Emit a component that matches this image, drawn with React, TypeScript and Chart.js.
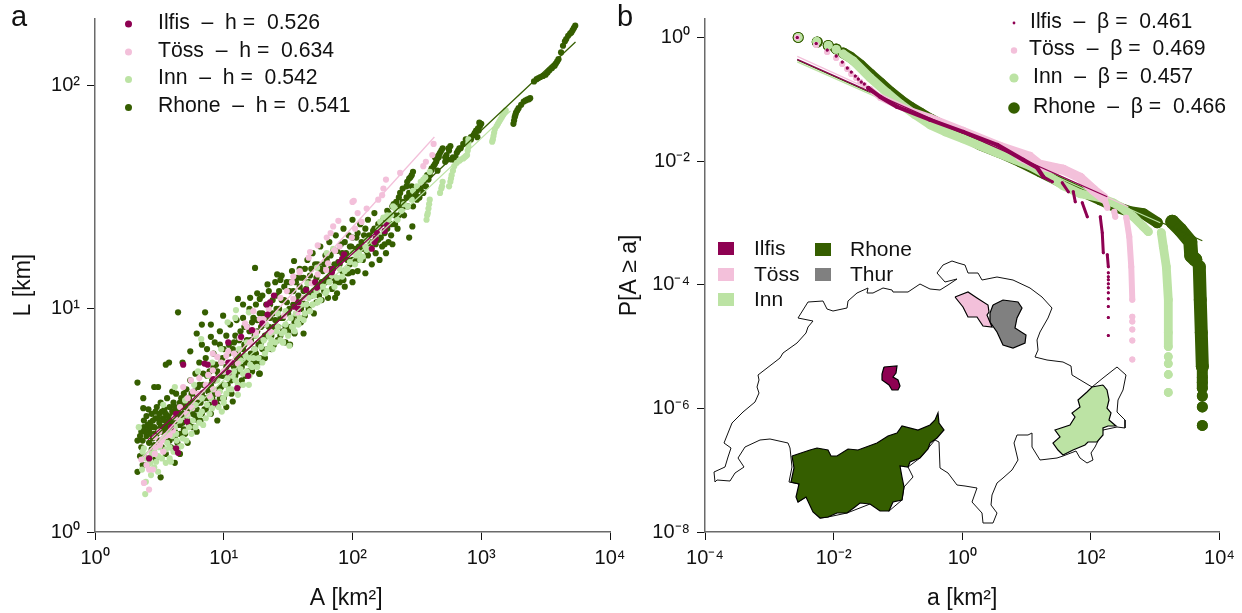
import React, { useEffect, useRef } from "react";
import { Chart, registerables } from "chart.js";

Chart.register(...registerables);

const FONT = '"Liberation Sans", Arial, sans-serif';
const ILFIS = "#8e0152";
const TOSS = "#f3c0da";
const INN = "#bce3a4";
const RHONE = "#355e00";
const THUR = "#808080";

type Pair = [number, number];

// Panel a: [log10 A, log10 L]
const rhoneAL: Pair[] = [
  [.33,.67],[.375,.60],[.375,.555],[.415,.55],[.33,.41],[.33,.27],[.51,.245],[.62,.31],[.49,.65],[.46,.65],[.60,.63],[.575,.76],[.55,.75],[.68,.76],[.74,.81],[.79,.89],[.83,.84],[.90,.875],[.645,.985],[.855,.985],[1.243,1.184],[1.546,1.215],[.995,.97],[.83,.93],[.90,.93],[1.11,1.045],[1.205,1.05],[1.15,1.02],[1.28,1.045],[1.26,1.07],[1.415,1.155],[1.34,1.11],[1.44,1.13],[1.865,1.05],[2.0,1.12],[2.0,1.165],[1.62,.89],[1.28,.71],[.72,.40],[.79,.45],[.95,.50],[1.02,.56],[1.07,.585],[1.275,.71],[1.515,.84],
  [.36,.45],[.38,.47],[.38,.50],[.40,.43],[.40,.52],[.42,.46],[.43,.49],[.44,.53],[.45,.42],[.46,.47],[.47,.51],[.48,.44],[.48,.56],[.50,.49],[.50,.53],[.51,.58],[.52,.45],[.53,.51],[.54,.55],[.55,.47],[.56,.60],[.57,.52],[.57,.43],[.58,.56],[.59,.49],[.60,.54],[.61,.58],[.62,.45],[.63,.62],[.63,.51],[.65,.56],[.66,.48],[.67,.60],[.68,.53],[.36,.38],[.38,.34],[.40,.30],[.44,.37],[.47,.33],[.52,.38],[.55,.35],[.59,.38],[.64,.40],[.70,.44],[.66,.35],
  [.70,.57],[.71,.64],[.72,.50],[.73,.60],[.74,.68],[.75,.55],[.76,.47],[.77,.63],[.78,.71],[.78,.52],[.80,.58],[.81,.66],[.81,.76],[.82,.50],[.83,.62],[.84,.71],[.85,.55],[.86,.78],[.87,.65],[.88,.60],[.89,.72],[.90,.53],[.91,.68],[.92,.80],[.93,.62],[.94,.75],[.95,.57],[.96,.70],[.97,.84],[.98,.65],[.99,.78],[1.0,.60],[.93,.85],[.87,.82],[.97,.90],
  [1.01,.72],[1.02,.88],[1.03,.66],[1.04,.80],[1.05,.93],[1.06,.62],[1.07,.75],[1.08,.85],[1.09,.70],[1.10,.95],[1.11,.80],[1.12,.66],[1.13,.90],[1.14,.74],[1.15,.96],[1.16,.84],[1.17,.70],[1.18,.92],[1.19,.78],[1.20,1.0],[1.21,.86],[1.22,.72],[1.23,.96],[1.24,.82],[1.25,1.02],[1.26,.90],[1.27,.76],[1.28,.98],[1.29,.85],[1.30,1.06],
  [1.31,.93],[1.32,.78],[1.33,1.02],[1.34,.88],[1.35,1.08],[1.36,.96],[1.37,.82],[1.38,1.04],[1.39,.92],[1.40,1.12],[1.41,1.0],[1.42,.86],[1.43,1.08],[1.44,.96],[1.45,1.15],[1.46,.90],[1.47,1.04],[1.48,.85],[1.49,1.12],[1.50,.98],[1.51,1.08],[1.52,.92],[1.53,1.17],[1.54,1.02],[1.55,.89],[1.56,1.12],[1.57,.97],[1.58,1.06],[1.59,1.18],[1.60,.94],
  [1.61,1.03],[1.62,1.14],[1.63,.97],[1.64,1.09],[1.65,1.22],[1.66,1.0],[1.67,1.15],[1.68,1.06],[1.69,1.25],[1.70,.98],[1.71,1.12],[1.72,1.03],[1.73,1.2],[1.74,1.1],[1.75,1.28],[1.76,1.04],[1.77,1.17],[1.78,1.08],[1.79,1.24],[1.80,1.13],[1.81,1.05],[1.82,1.3],[1.83,1.18],[1.84,1.09],[1.85,1.26],[1.86,1.14],[1.87,1.33],[1.88,1.07],[1.89,1.21],[1.90,1.12],[1.91,1.29],[1.92,1.17],[1.93,1.36],[1.94,1.1],[1.95,1.25],[1.96,1.16],[1.97,1.33],[1.98,1.2],[1.99,1.28],[2.0,1.4],
  [2.02,1.22],[2.03,1.32],[2.04,1.17],[2.05,1.28],[2.06,1.38],[2.08,1.22],[2.09,1.33],[2.10,1.16],[2.11,1.26],[2.12,1.4],[2.14,1.29],[2.15,1.2],[2.16,1.35],[2.17,1.43],[2.18,1.25],[2.2,1.31],[2.21,1.22],[2.22,1.38],[2.23,1.28],[2.25,1.34],[2.26,1.25],[2.27,1.44],[2.28,1.3],[2.3,1.38],[2.31,1.29],[2.32,1.47],[2.33,1.42],[2.35,1.36],[2.36,1.5],[2.37,1.52],[2.38,1.43],[2.39,1.54],[2.41,1.46],[2.42,1.55],[2.44,1.32],[2.45,1.59],[2.465,1.37],[2.47,1.615],[2.45,1.5],
  [2.50,1.49],[2.52,1.5],[2.55,1.52],[2.57,1.55],[2.60,1.6],[2.63,1.64],[2.65,1.66],[2.68,1.70],[2.66,1.62],[2.73,1.69],[2.76,1.73],[2.74,1.67],[2.80,1.68],[2.82,1.71],[2.9,1.75],[2.94,1.78],[2.96,1.8],[2.99,1.82],[2.97,1.77],
  [3.25,1.83],[3.26,1.86],[3.27,1.88],[3.29,1.9],[3.33,1.93],[3.36,1.94],[3.38,1.945],[3.43,2.03],[3.46,2.04],[3.50,2.05],[3.53,2.07],[3.55,2.08],[3.58,2.1],[3.60,2.12],[3.65,2.20],[3.66,2.21],[3.675,2.225],[3.70,2.24],[3.71,2.25],[3.73,2.27],
];
const rhoneDenseAL: Pair[] = [
  [.35,.43],[.37,.41],[.39,.45],[.41,.48],[.43,.44],[.44,.47],[.45,.50],[.46,.44],[.47,.54],[.49,.46],[.49,.51],[.51,.47],[.52,.54],[.53,.47],[.54,.50],[.55,.53],[.56,.49],[.56,.45],[.58,.50],[.58,.46],[.60,.50],[.61,.47],[.61,.53],[.62,.56],[.64,.48],[.64,.54],[.66,.52],[.66,.58],[.68,.49],[.69,.56],[.69,.62],[.42,.40],[.46,.39],[.50,.41],[.54,.42],[.58,.41],[.62,.42],[.66,.44],[.69,.46],[.35,.34],[.42,.33],[.37,.30],
  [.71,.52],[.72,.55],[.73,.48],[.74,.58],[.75,.62],[.76,.53],[.77,.58],[.78,.62],[.79,.55],[.80,.50],[.80,.65],[.82,.58],[.83,.53],[.84,.66],[.85,.60],[.86,.55],[.87,.70],[.88,.63],[.89,.57],[.90,.66],[.91,.60],[.92,.74],[.93,.68],[.94,.58],[.95,.72],[.96,.64],[.97,.60],[.98,.76],[.99,.70],[1.0,.82],[1.0,.66],
  [1.02,.74],[1.03,.70],[1.04,.84],[1.05,.76],[1.06,.68],[1.07,.82],[1.08,.74],[1.09,.88],[1.1,.78],[1.11,.72],[1.12,.86],[1.13,.78],[1.14,.68],[1.15,.82],[1.16,.92],[1.17,.76],[1.18,.86],[1.19,.72],[1.2,.90],[1.21,.80],[1.22,.94],[1.23,.76],[1.24,.88],[1.25,.80],[1.26,.95],[1.27,.84],[1.28,.78],[1.29,.92],[1.3,.82],[1.3,.98],
  [1.32,.88],[1.33,.96],[1.34,.82],[1.35,.92],[1.36,1.02],[1.37,.88],[1.38,.98],[1.39,.84],[1.4,.95],[1.41,1.06],[1.42,.92],[1.43,1.0],[1.44,.88],[1.45,1.04],[1.46,.96],[1.47,1.1],[1.48,.92],[1.49,1.03],[1.5,.9],[1.51,1.0],[1.52,1.12],[1.53,.96],[1.54,1.08],[1.55,.94],[1.56,1.04],[1.57,1.14],[1.58,1.0],[1.59,1.1],[1.6,1.0],[1.6,1.14],
  [1.62,1.08],[1.63,1.18],[1.64,1.02],[1.66,1.12],[1.67,1.06],[1.68,1.18],[1.7,1.08],[1.71,1.2],[1.72,1.14],[1.74,1.06],[1.75,1.18],[1.76,1.12],[1.78,1.2],[1.79,1.12],[1.8,1.22],[1.82,1.14],[1.83,1.24],[1.84,1.14],[1.86,1.2],[1.87,1.12],[1.88,1.26],[1.9,1.2],[1.92,1.25],[1.93,1.13],[1.94,1.3],[1.96,1.22],[1.97,1.16],[1.98,1.28],[2.0,1.22],[2.0,1.32],
  [2.02,1.27],[2.04,1.34],[2.05,1.22],[2.07,1.3],[2.08,1.27],[2.1,1.36],[2.12,1.24],[2.13,1.33],[2.15,1.3],[2.17,1.36],[2.18,1.29],[2.2,1.38],[2.22,1.32],[2.24,1.4],[2.25,1.29],[2.27,1.36],[2.28,1.43],[2.3,1.33],[2.31,1.46],[2.33,1.38],[2.34,1.48],[2.36,1.42],[2.37,1.46],[2.39,1.48],[2.4,1.42],[2.42,1.5],[2.43,1.46],[2.44,1.52],[2.46,1.55],[2.47,1.46],[2.49,1.5],[2.5,1.53],
  [2.53,1.54],[2.56,1.58],[2.58,1.6],[2.61,1.62],[2.64,1.68],[2.67,1.68],[2.7,1.72],[2.72,1.66],[2.75,1.71],[2.78,1.68],[2.81,1.7],[2.84,1.72],[2.86,1.74],[2.88,1.76],[2.92,1.76],[2.98,1.8],[3.0,1.83],
  [3.255,1.845],[3.265,1.87],[3.28,1.89],[3.31,1.915],[3.345,1.935],[3.37,1.94],[3.41,2.02],[3.445,2.035],[3.48,2.045],[3.515,2.06],[3.57,2.09],[3.59,2.11],[3.62,2.15],[3.635,2.18],[3.69,2.235],[3.72,2.26],
];
const rhoneChainAL: Pair[] = [
  [2.425,1.57],[2.44,1.585],[2.46,1.60],[2.49,1.51],[2.515,1.50],[2.59,1.58],[2.615,1.63],[2.64,1.65],[2.655,1.67],[2.67,1.69],[2.69,1.71],[2.72,1.68],[2.745,1.72],[2.77,1.67],[2.79,1.67],[2.83,1.72],[2.92,1.77],[2.95,1.79],[2.975,1.81],[2.985,1.835],
];
const innAL: Pair[] = [
  [.39,.17],[.395,.225],[.435,.255],[.49,.27],[.365,.28],[.34,.47],[.38,.375],[.37,.36],[.41,.30],[.475,.315],[.58,.33],[.59,.315],[.56,.40],[.635,.41],[.67,.385],[.70,.45],[.76,.50],[.84,.48],[.815,.525],[.91,.555],[.985,.54],[.995,.60],[1.11,.615],[1.195,.66],[1.01,.66],[1.205,.75],[1.36,.84],[1.51,.835],[.62,.65],[.70,.59],[.53,.57],[.77,.66],[.91,.76],[1.07,.70],
  [.44,.35],[.50,.38],[.53,.42],[.60,.43],[.62,.47],[.66,.50],[.72,.52],[.78,.57],[.83,.60],[.87,.57],[.92,.64],[.95,.68],[1.0,.72],[1.04,.64],[1.06,.76],[1.09,.68],[1.13,.73],[1.15,.66],[1.17,.79],[1.2,.70],[1.23,.78],[1.26,.74],[1.29,.83],[1.32,.80],[1.35,.88],[1.38,.82],[1.41,.90],[1.44,.86],[1.46,.85],[1.48,.93],[1.53,.92],[1.56,.98],[1.58,.93],[1.6,1.02],[1.63,.98],[1.66,1.05],[1.69,1.02],[1.72,1.08],[1.75,1.04],[1.79,1.07],[1.82,1.12],[1.86,1.1],[1.92,1.145],[1.96,1.18],[2.0,1.255],[2.02,1.2],[2.08,1.235],[2.11,1.31],[2.14,1.27],[2.215,1.39],[2.28,1.40],[1.80,1.25],[1.85,1.27],[1.725,1.185],[1.65,1.115],[1.095,.995],[1.195,.985],[1.09,.96],[1.03,.94],[.825,.865],[1.46,.85],[1.54,.92],[1.69,1.02],[1.59,.96],[1.48,.99],[1.42,.98],[1.33,.93],[1.25,.88],[1.18,.85],[1.12,.82],[.98,.82],[.88,.70],[.80,.72],
  [2.11,1.265],[2.24,1.41],[2.315,1.46],[2.46,1.49],[2.47,1.53],[2.565,1.59],[2.60,1.615],[2.58,1.42],[2.59,1.45],[2.60,1.49],[2.69,1.54],[2.70,1.57],[2.76,1.57],[2.77,1.6],[2.79,1.64],[2.84,1.67],[2.87,1.68],[2.89,1.69],[2.90,1.73],[2.90,1.76],[3.09,1.76],[3.10,1.79],[3.12,1.82],[3.15,1.85],[3.17,1.87],[3.19,1.89],[2.35,1.4],[2.4,1.47],[2.18,1.33],[2.05,1.25],
];
const innDenseAL: Pair[] = [
  [.40,.33],[.43,.31],[.46,.29],[.46,.36],[.49,.34],[.52,.33],[.55,.37],[.55,.31],[.58,.38],[.61,.36],[.63,.44],[.65,.38],[.68,.42],[.71,.41],[.73,.47],[.75,.44],[.78,.47],[.81,.49],[.83,.54],[.86,.51],[.89,.53],[.90,.60],[.93,.58],[.96,.56],[.97,.63],[1.0,.58],[1.02,.62],[1.03,.69],[1.06,.64],[1.08,.72],[1.11,.66],[1.13,.77],[1.15,.71],[1.18,.72],[1.2,.78],[1.22,.74],[1.24,.82],[1.27,.78],[1.3,.76],[1.31,.86],[1.34,.82],[1.37,.86],[1.4,.85],[1.42,.92],[1.45,.89],[1.47,.90],[1.5,.88],[1.52,.96],[1.55,.9],[1.57,.94],[1.62,.95],[1.64,1.02],[1.67,.99],[1.7,1.06],[1.73,1.03],[1.77,1.1],[1.8,1.08],[1.84,1.15],[1.88,1.14],[1.9,1.18],[1.94,1.17],[1.98,1.21],[2.03,1.24],[2.06,1.22],[2.1,1.28],[2.16,1.3],[2.2,1.36],[2.26,1.38],[2.3,1.42],
];
const innChainAL: Pair[] = [
  [2.575,1.40],[2.585,1.43],[2.595,1.47],[2.68,1.52],[2.695,1.55],[2.75,1.55],[2.765,1.585],[2.78,1.62],[2.81,1.655],[2.83,1.665],[2.86,1.675],[2.88,1.685],[2.895,1.71],[2.90,1.745],[3.085,1.75],[3.095,1.775],[3.105,1.805],[3.13,1.83],[3.14,1.84],[3.16,1.86],[3.18,1.88],[2.50,1.55],[2.53,1.57],[2.55,1.58],[2.43,1.46],[2.38,1.44],[2.33,1.45],[2.27,1.42],
];
const tossAL: Pair[] = [
  [2.63,1.74],[2.62,1.69],[2.55,1.64],[2.57,1.66],[2.37,1.61],[2.26,1.58],[2.24,1.54],[2.20,1.49],[2.23,1.51],[2.0,1.48],[2.01,1.485],[2.11,1.45],[2.04,1.43],[2.02,1.36],[1.89,1.395],[1.85,1.37],[1.83,1.34],[1.80,1.32],[1.73,1.285],[1.67,1.255],[1.66,1.23],[1.81,1.205],[1.59,1.165],[1.54,1.145],
  [1.865,1.26],[1.90,1.28],[1.995,1.32],[2.07,1.39],[1.59,1.17],[1.53,1.12],[1.795,1.175],[1.73,1.155],[1.685,1.115],[1.49,1.08],[1.54,1.045],[1.62,1.05],[1.575,.985],[1.47,.97],[1.31,.955],[1.28,.955],[1.23,.99],[1.165,.935],[1.37,.895],[1.25,.895],[1.125,.87],[1.205,.85],[1.035,.81],[.915,.80],[1.02,.79],[.98,.76],[1.11,.755],[.915,.725],[.88,.705],[.81,.69],
  [.95,.785],[.745,.68],[.685,.65],[.76,.63],[.89,.61],[.92,.64],[.955,.62],[.755,.555],[.715,.53],[.62,.515],[.605,.455],[.58,.435],[.465,.425],[.52,.41],[.505,.39],[.53,.36],[.465,.35],[.36,.325],[.45,.28],[.42,.28],[.38,.22],[.42,.19],
  [.40,.30],[.47,.38],[.55,.43],[.66,.56],[.80,.62],[.86,.66],[1.0,.72],[1.08,.80],[1.18,.92],[1.35,1.0],[1.44,1.05],[.50,.45],[.72,.60],
];
const ilfisAL: Pair[] = [
  [2.27,1.375],[2.25,1.35],[2.19,1.34],[2.18,1.315],[2.17,1.30],[2.15,1.27],[1.935,1.245],[1.90,1.21],[1.92,1.225],[1.85,1.18],[1.84,1.165],[1.71,1.12],[1.64,1.085],[1.725,1.095],[1.58,1.03],[1.39,1.06],[1.335,1.02],[1.36,1.03],[1.55,1.01],[1.58,1.0],[1.34,.975],[1.30,.935],[1.22,.905],[1.135,.875],[1.035,.85],[1.035,.76],[1.06,.76],[.85,.755],[.875,.75],[1.04,.715],[1.19,.70],[.685,.75],[.92,.685],[1.105,.645],[.93,.58],[.63,.53],[.715,.495],[.59,.47],[.63,.375],[.645,.355],[.42,.33],
];

// Panel a: fitted power laws, end points as [log10 A, log10 L]
const ilfisFitAL: Pair[] = [[.412,.413],[2.27,1.39]];
const tossFitAL: Pair[] = [[.373,.332],[2.636,1.771]];
const innFitAL: Pair[] = [[.365,.336],[3.227,1.888]];
const rhoneFitAL: Pair[] = [[.412,.399],[3.732,2.197]];

// Panel b: [log10 a, log10 P]; null marks a break in the run of points
type Cell = Pair | null;
const rhoneCurve: Cell[] = [
  [-2.551,0],null,[-2.255,-.073],null,[-2.084,-.129],null,[-1.96,-.186],null,
  [-1.851,-.25],[-1.742,-.315],[-1.586,-.444],[-1.431,-.59],[-1.275,-.735],[-1.12,-.88],[-.964,-1.01],[-.809,-1.123],[-.653,-1.22],[-.498,-1.317],[-.264,-1.446],[.016,-1.591],[.28,-1.737],[.591,-1.866],[.902,-2.011],[1.213,-2.173],[1.524,-2.334],[1.835,-2.48],[2.146,-2.625],[2.379,-2.738],[2.613,-2.819],[2.815,-2.851],[3.033,-2.997],null,
  [3.266,-2.981],[3.39,-3.11],[3.546,-3.304],[3.561,-3.53],[3.624,-3.594],[3.686,-3.708],[3.701,-4.241],[3.717,-4.774],[3.733,-5.323],[3.733,-5.499],[3.733,-5.578],[3.733,-5.675],null,
  [3.733,-5.8],null,[3.733,-5.976],null,[3.733,-6.276],
];
const rhoneShoulder: Cell[] = [[3.266,-2.981],[3.39,-3.11],[3.546,-3.304],[3.561,-3.53],[3.624,-3.594]];
const rhoneTail: Cell[] = [[3.686,-3.708],[3.701,-4.241],[3.717,-4.774],[3.733,-5.323]];
const innCurve: Cell[] = [
  [-2.551,0],null,[-2.263,-.065],null,[-2.084,-.129],null,[-1.96,-.194],null,
  [-1.851,-.267],[-1.695,-.38],[-1.431,-.654],[-1.166,-.897],[-.964,-1.074],[-.731,-1.252],[-.498,-1.414],[-.264,-1.527],[.016,-1.64],[.28,-1.753],[.544,-1.866],[.824,-1.979],[1.058,-2.076],[1.337,-2.237],[1.571,-2.399],[1.835,-2.528],[2.146,-2.593],[2.348,-2.674],[2.457,-2.738],[2.659,-2.9],[2.815,-3.061],[2.893,-3.142],null,
  [3.095,-3.158],[3.126,-3.384],[3.173,-3.708],[3.204,-4.241],[3.204,-4.774],[3.204,-5.0],null,
  [3.204,-5.162],null,[3.204,-5.275],null,[3.204,-5.452],null,[3.204,-5.743],
];
const tossCurve: Cell[] = [
  [-2.566,0],null,[-2.271,-.121],null,[-2.1,-.234],null,[-1.96,-.331],null,[-1.866,-.428],null,[-1.788,-.509],null,[-1.726,-.59],null,[-1.649,-.654],null,[-1.586,-.719],null,[-1.524,-.767],null,
  [-1.431,-.832],[-1.275,-.977],[-1.011,-1.107],[-.498,-1.284],[.016,-1.494],[.591,-1.737],[1.058,-1.898],[1.213,-2.027],[1.571,-2.108],[1.835,-2.254],[2.037,-2.464],[2.193,-2.593],[2.224,-2.658],[2.255,-2.754],null,
  [2.364,-2.819],[2.379,-2.9],null,
  [2.551,-2.916],[2.597,-3.223],[2.628,-3.708],[2.644,-4.241],null,
  [2.644,-4.516],null,[2.644,-4.596],null,[2.644,-4.725],null,[2.644,-4.903],null,[2.644,-5.21],
];
const tossSwell: Cell[] = [[.902,-1.93],[1.213,-2.076],[1.571,-2.141],[1.835,-2.27],[2.037,-2.464],[2.193,-2.593]];
const ilfisHeadTail: Cell[] = [
  [-2.566,0],null,[-2.271,-.097],null,[-2.1,-.202],null,[-1.96,-.299],null,[-1.866,-.396],null,[-1.788,-.493],null,[-1.726,-.557],null,[-1.664,-.622],null,[-1.617,-.67],null,[-1.571,-.719],null,[-1.524,-.751],null,
  [1.26,-2.254],[1.4,-2.334],null,[1.555,-2.351],[1.649,-2.496],null,[1.726,-2.496],[1.757,-2.658],null,[1.866,-2.674],[1.944,-2.9],null,[2.146,-2.9],[2.177,-3.158],[2.193,-3.481],null,[2.255,-3.514],[2.271,-3.708],null,
  [2.271,-3.805],null,[2.271,-3.869],null,[2.271,-3.918],null,[2.271,-3.982],null,[2.271,-4.047],null,[2.271,-4.128],null,[2.271,-4.225],null,[2.271,-4.354],null,[2.271,-4.531],null,[2.271,-4.822],
];
const ilfisBody: Cell[] = [
  [-1.462,-.816],[-1.275,-.961],[-1.011,-1.123],[-.498,-1.333],[.016,-1.527],[.544,-1.737],[.949,-1.979],[1.166,-2.108],[1.26,-2.254],
];

// Panel b: fitted power laws, end points as [log10 a, log10 P]
const ilfisFitB: Pair[] = [[-2.566,-.355],[2.255,-2.577]];
const tossFitB: Pair[] = [[-2.566,-.307],[2.582,-2.738]];
const innFitB: Pair[] = [[-2.566,-.396],[3.079,-2.997]];
const rhoneFitB: Pair[] = [[-2.566,-.364],[3.733,-3.288]];

// Panel b inset: catchment and border outlines in map units
const borderMap: Pair[] = [
  [10,50],[9,60],[20,65],[23,75],[26,84],[19,89],[27,109],[38,120],[50,130],[54,139],[52,145],[54,152],[53,157],[75,174],[78,179],[92,189],[101,199],[103,205],[108,211],[93,214],[98,222],[103,230],[118,231],[122,223],[128,221],[142,224],[143,231],[152,239],[163,244],[162,239],[168,239],[178,244],[187,242],[188,240],[203,240],[215,248],[225,243],[235,242],[243,247],[252,253],[240,250],[232,259],[238,267],[247,271],[253,269],[260,267],[263,259],[273,259],[277,252],[292,255],[308,252],[325,244],[337,235],[347,224],[343,214],[335,200],[332,192],[333,182],[330,175],[342,172],[358,170],[366,166],[367,157],[387,145],[398,154],[412,165],[421,157],[418,142],[413,132],[412,120],[420,112],[420,104],[412,105],[398,102],[392,89],[390,85],[386,79],[388,72],[382,69],[375,74],[371,81],[358,76],[352,74],[335,72],[327,85],[327,99],[323,97],[312,97],[309,89],[313,72],[307,62],[298,54],[292,49],[287,37],[286,27],[292,19],[288,9],[278,9],[277,19],[267,30],[272,44],[260,46],[252,47],[243,59],[235,64],[234,90],[230,92],[215,74],[203,65],[208,55],[199,45],[197,32],[184,21],[165,28],[142,19],[123,15],[115,14],[101,35],[93,30],[94,48],[84,50],[87,65],[85,84],[83,89],[65,93],[55,92],[40,85],[33,74],[39,65],[30,59],[25,51],[12,52],[10,50],
];
const rhoneMap: Pair[] = [
  [87,76],[105,82],[112,84],[123,82],[126,76],[132,76],[143,83],[153,82],[172,89],[183,96],[192,99],[197,106],[213,102],[225,107],[230,112],[233,119],[234,109],[239,102],[232,94],[225,89],[223,83],[215,74],[205,70],[203,65],[195,66],[197,55],[199,45],[197,32],[188,30],[184,21],[175,21],[165,28],[155,29],[150,25],[142,19],[132,19],[123,15],[115,14],[108,20],[101,35],[93,30],[91,35],[94,48],[86,50],[89,64],[87,76],
];
const ilfisMap: Pair[] = [[179,165],[192,166],[191,159],[188,155],[193,152],[195,146],[193,142],[187,142],[184,147],[177,152],[177,158],[179,165]];
const tossMap: Pair[] = [[250,235],[263,240],[272,234],[283,227],[284,220],[282,217],[287,205],[278,206],[272,215],[263,215],[258,225],[250,235]];
const thurMap: Pair[] = [[288,227],[298,232],[313,230],[317,224],[312,214],[310,204],[321,197],[320,189],[308,184],[298,187],[292,200],[285,210],[285,219],[288,227]];
const innMap: Pair[] = [[398,147],[402,142],[404,132],[402,124],[406,119],[404,112],[411,106],[403,106],[398,104],[398,97],[392,90],[383,90],[380,87],[368,82],[358,77],[353,82],[348,89],[355,95],[350,102],[365,107],[370,115],[367,119],[375,125],[373,132],[382,140],[387,145],[398,147]];

// Tick exponents and labels
const exponentsAX = [0, 1, 2, 3, 4];
const exponentsAY = [0, 1, 2];
const exponentsBX = [-4, -2, 0, 2, 4];
const exponentsBY = [-8, -6, -4, -2, 0];
const legendA = ["Ilfis  –  h =  0.526", "Töss  –  h =  0.634", "Inn  –  h =  0.542", "Rhone  –  h =  0.541"];
const legendB = ["Ilfis  –  β =  0.461", "Töss  –  β =  0.469", "Inn  –  β =  0.457", "Rhone  –  β =  0.466"];
const mapLegendLeft = ["Ilfis", "Töss", "Inn"];
const mapLegendRight = ["Rhone", "Thur"];

const SUP: Record<string, string> = { "0": "⁰", "1": "¹", "2": "²", "3": "³", "4": "⁴", "6": "⁶", "8": "⁸", "-": "⁻" };
const tenTo = (e: number) => "10" + String(e).split("").map((c) => SUP[c]).join("");

const logPts = (list: Cell[]) =>
  list.map((p) => (p ? { x: 10 ** p[0], y: 10 ** p[1] } : { x: null, y: null }));
const mapPts = (list: Pair[]) => list.map((p) => ({ x: p[0], y: p[1] }));

const dots = (label: string, list: Pair[], color: string) => ({
  label, data: logPts(list), backgroundColor: color, borderColor: color,
  pointRadius: 3.1, pointBorderWidth: 0, showLine: false, clip: false,
});
const fitLine = (label: string, list: Pair[], color: string) => ({
  label, data: logPts(list), borderColor: color, backgroundColor: color,
  borderWidth: 1.3, pointRadius: 0, showLine: true, clip: false,
});
const curve = (label: string, list: Cell[], color: string, r: number, width = 2 * r) => ({
  label, data: logPts(list), backgroundColor: color, borderColor: color,
  pointRadius: r, pointBorderWidth: 0, showLine: true, borderWidth: width,
  borderCapStyle: "round", borderJoinStyle: "round", clip: false,
});
const region = (label: string, list: Pair[], color: string) => ({
  label, data: mapPts(list), xAxisID: "xMap", yAxisID: "yMap", showLine: true, fill: "shape",
  backgroundColor: color, borderColor: "#000", borderWidth: 1.2, pointRadius: 0, tension: 0,
});

const logAxis = (
  axis: "x" | "y", min: number, max: number, exps: number[], title: string,
  size: number, titlePad: any,
) => ({
  type: "logarithmic", axis, position: axis === "x" ? "bottom" : "left", min, max,
  afterBuildTicks: (s: any) => { s.ticks = exps.map((e) => ({ value: 10 ** e })); },
  afterFit: (s: any) => { if (axis === "x") s.height = size; else s.width = size; },
  border: { display: true, color: "#6a6a6a", width: 1.5 },
  grid: { display: true, drawOnChartArea: false, drawTicks: true, tickLength: 8, tickColor: "#111", tickWidth: 1 },
  ticks: {
    autoSkip: false, maxRotation: 0, minRotation: 0, padding: axis === "x" ? 6 : 7, color: "#111",
    font: { family: FONT, size: 20 },
    callback: (v: any) => tenTo(Math.round(Math.log10(Number(v)))),
  },
  title: { display: true, text: title, color: "#111", font: { family: FONT, size: 23 }, padding: titlePad },
});

const textAt = (ctx: any, text: string, x: number, y: number, size = 21.2) => {
  ctx.font = `${size}px ${FONT}`;
  ctx.fillStyle = "#111";
  ctx.textAlign = "left";
  ctx.textBaseline = "middle";
  ctx.fillText(text, x, y);
};
const disc = (ctx: any, x: number, y: number, r: number, color: string) => {
  ctx.fillStyle = color;
  ctx.beginPath();
  ctx.arc(x, y, r, 0, Math.PI * 2);
  ctx.fill();
};

const keyA = {
  id: "keyA",
  afterDraw(chart: any) {
    const { ctx } = chart;
    ctx.save();
    textAt(ctx, "a", 11, 18, 29);
    const colors = [ILFIS, TOSS, INN, RHONE];
    const rows = [24, 52, 79.5, 107.5];
    legendA.forEach((t, i) => {
      disc(ctx, 128.5, rows[i], 3.5, colors[i]);
      textAt(ctx, t, 158, rows[i] - 1);
    });
    ctx.restore();
  },
};
const keyB = {
  id: "keyB",
  afterDraw(chart: any) {
    const { ctx } = chart;
    ctx.save();
    textAt(ctx, "b", 7, 18, 29);
    const colors = [ILFIS, TOSS, INN, RHONE];
    const rows = [23, 50.5, 78, 108];
    const radii = [1.4, 3.2, 4.6, 5.8];
    const textX = [420, 419, 423, 423];
    legendB.forEach((t, i) => {
      disc(ctx, 404, rows[i], radii[i], colors[i]);
      textAt(ctx, t, textX[i], rows[i] - 1);
    });
    const square = (x: number, y: number, c: string) => { ctx.fillStyle = c; ctx.fillRect(x, y, 16, 13); };
    [ILFIS, TOSS, INN].forEach((c, i) => {
      const y = [242, 268, 293][i];
      square(108, y, c);
      textAt(ctx, mapLegendLeft[i], 144, y + 7, 21);
    });
    [RHONE, THUR].forEach((c, i) => {
      const y = [243, 268][i];
      square(205, y, c);
      textAt(ctx, mapLegendRight[i], 240, y + 7, 21);
    });
    ctx.restore();
  },
};

export default function App() {
  const refA = useRef<HTMLCanvasElement>(null);
  const refB = useRef<HTMLCanvasElement>(null);
  useEffect(() => {
    const base = {
      responsive: false, animation: false, devicePixelRatio: 1,
      plugins: { legend: { display: false }, tooltip: { enabled: false } },
    };
    const a = new Chart(refA.current as any, {
      type: "scatter",
      data: {
        datasets: [
          fitLine("Ilfis fit", ilfisFitAL, ILFIS),
          fitLine("Töss fit", tossFitAL, TOSS),
          fitLine("Inn fit", innFitAL, INN),
          fitLine("Rhone fit", rhoneFitAL, RHONE),
          dots("Ilfis", ilfisAL, ILFIS),
          dots("Töss", tossAL, TOSS),
          dots("Inn", [...innAL, ...innDenseAL, ...innChainAL], INN),
          dots("Rhone", [...rhoneAL, ...rhoneDenseAL, ...rhoneChainAL], RHONE),
        ],
      },
      options: {
        ...base,
        layout: { padding: { top: 19, right: 30, left: 0, bottom: 0 } },
        scales: {
          x: logAxis("x", 1, 1e4, exponentsAX, "A [km²]  ", 81, { top: 4, bottom: 1 }),
          y: logAxis("y", 1, 10 ** 2.3, exponentsAY, "L [km]   ", 95, { top: 10, bottom: 0 }),
        },
      } as any,
      plugins: [keyA],
    } as any);
    const b = new Chart(refB.current as any, {
      type: "scatter",
      data: {
        datasets: [
          fitLine("Ilfis fit", ilfisFitB, ILFIS),
          curve("Ilfis", ilfisHeadTail, ILFIS, 1.5, 3),
          curve("Ilfis band", ilfisBody, ILFIS, 2.1),
          fitLine("Töss fit", tossFitB, TOSS),
          curve("Töss swell", tossSwell, TOSS, 5),
          curve("Töss", tossCurve, TOSS, 3),
          fitLine("Inn fit", innFitB, INN),
          curve("Inn", innCurve, INN, 4.4),
          fitLine("Rhone fit", rhoneFitB, RHONE),
          curve("Rhone shoulder", rhoneShoulder, RHONE, 7),
          curve("Rhone tail", rhoneTail, RHONE, 6.5),
          curve("Rhone", rhoneCurve, RHONE, 5.5),
          region("Ilfis map", ilfisMap, ILFIS),
          region("Töss map", tossMap, TOSS),
          region("Thur map", thurMap, THUR),
          region("Inn map", innMap, INN),
          region("Rhone map", rhoneMap, RHONE),
          {
            label: "Border", data: mapPts(borderMap), xAxisID: "xMap", yAxisID: "yMap",
            showLine: true, borderColor: "#111", borderWidth: 1, pointRadius: 0, fill: false,
          },
        ],
      },
      options: {
        ...base,
        layout: { padding: { top: 19, right: 22.5, left: 0, bottom: 0 } },
        scales: {
          x: logAxis("x", 1e-4, 1e4, exponentsBX, "a [km²]", 81, { top: 4, bottom: 1 }),
          y: logAxis("y", 1e-8, 10 ** 0.299, exponentsBY, "P[A ≥ a]", 95, { top: 6, bottom: 0 }),
          xMap: { type: "linear", axis: "x", display: false, min: 0, max: 514.5 },
          yMap: { type: "linear", axis: "y", display: false, min: 0, max: 513 },
        },
      } as any,
      plugins: [keyB],
    } as any);
    return () => { a.destroy(); b.destroy(); };
  }, []);
  return (
    <div style={{ position: "absolute", left: 0, top: 0, width: 1242, height: 613, background: "#fff", overflow: "hidden" }}>
      <canvas ref={refA} width={640} height={613} style={{ position: "absolute", left: 0, top: 0 }} />
      <canvas ref={refB} width={632} height={613} style={{ position: "absolute", left: 610, top: 0 }} />
    </div>
  );
}
